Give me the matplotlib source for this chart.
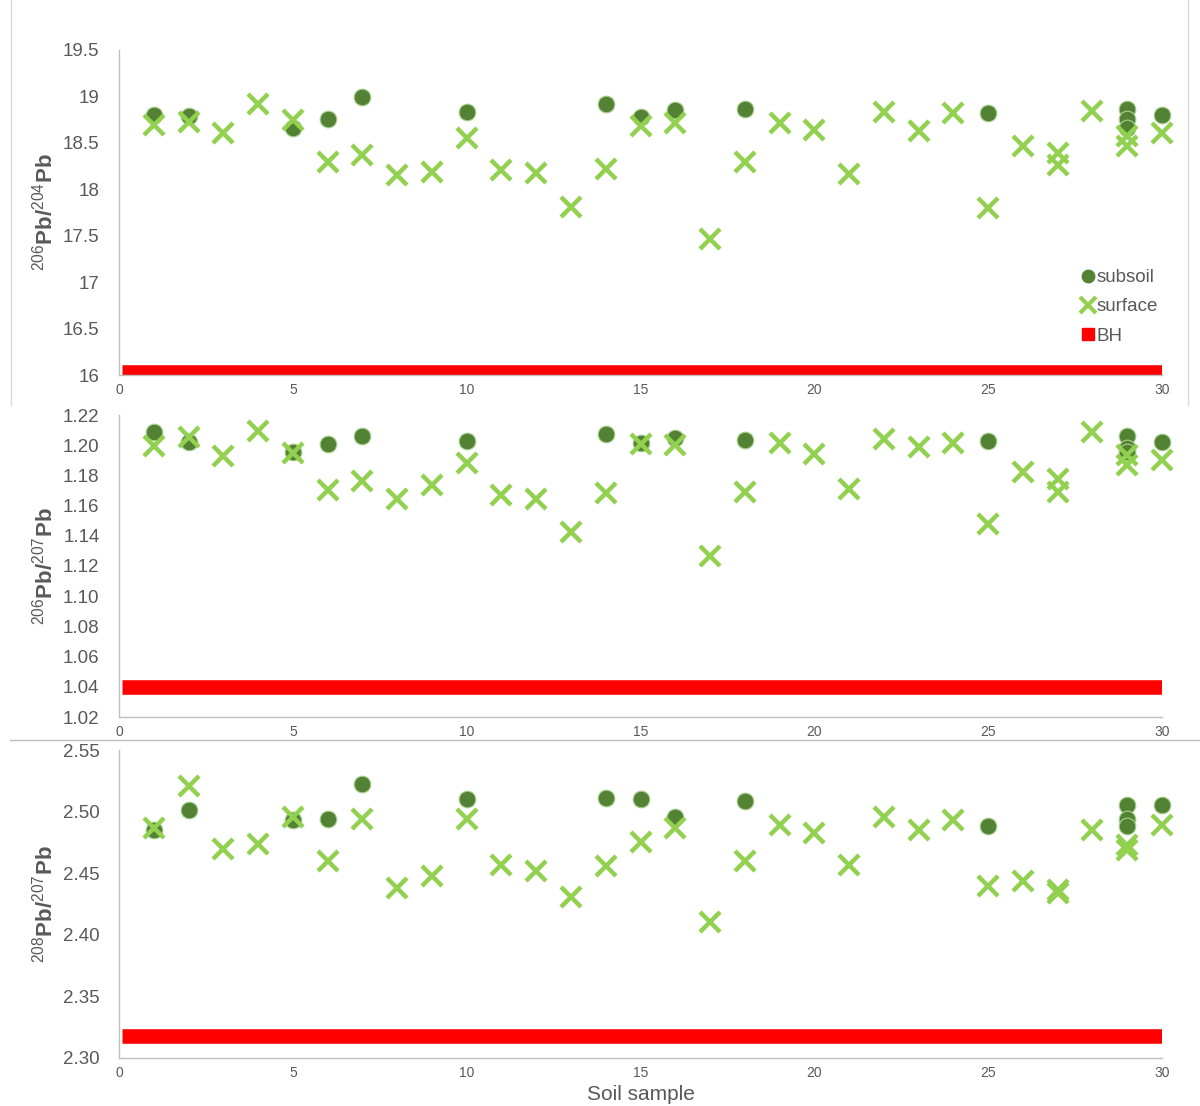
import matplotlib
matplotlib.use("Agg")
from matplotlib import pyplot as plt
from matplotlib.lines import Line2D
import numpy as np

plt.rcParams['font.family'] = ['Liberation Sans', 'DejaVu Sans']
plt.rcParams['mathtext.fontset'] = 'custom'
plt.rcParams['mathtext.rm'] = 'Liberation Sans'
plt.rcParams['mathtext.bf'] = 'Liberation Sans:bold'

# data
sub_x = [1, 2, 5, 6, 7, 10, 14, 15, 16, 18, 25, 29, 29, 29, 30]
sub_206_204 = [18.80, 18.79, 18.66, 18.76, 18.99, 18.83, 18.92, 18.78, 18.85, 18.86,
               18.82, 18.87, 18.76, 18.66, 18.80]
sub_206_207 = [1.2087, 1.2021, 1.1955, 1.2008, 1.2061, 1.2028, 1.2074, 1.2015, 1.2048,
               1.2034, 1.2028, 1.2061, 1.1980, 1.1955, 1.2021]
sub_208_207 = [2.485, 2.501, 2.493, 2.494, 2.522, 2.510, 2.511, 2.510, 2.496, 2.509,
               2.488, 2.505, 2.494, 2.488, 2.505]

surf_x = list(range(1, 27)) + [27, 27, 28, 29, 29, 30]
surf_206_204 = [18.69, 18.73, 18.61, 18.92, 18.75, 18.29, 18.37, 18.15, 18.19, 18.55,
                18.21, 18.17, 17.81, 18.22, 18.68, 18.71, 17.47, 18.29, 18.71, 18.64,
                18.16, 18.83, 18.63, 18.82, 17.80, 18.47, 18.39, 18.26, 18.84, 18.57,
                18.47, 18.61]
surf_206_207 = [1.1995, 1.2054, 1.1929, 1.2094, 1.1948, 1.1703, 1.1763, 1.1644, 1.1737,
                1.1882, 1.1670, 1.1644, 1.1425, 1.1684, 1.2008, 1.2001, 1.1267, 1.1690,
                1.2015, 1.1942, 1.1710, 1.2041, 1.1988, 1.2015, 1.1478, 1.1823, 1.1776,
                1.1690, 1.2087, 1.1935, 1.1869, 1.1902]
surf_208_207 = [2.487, 2.521, 2.470, 2.474, 2.496, 2.460, 2.494, 2.438, 2.448, 2.494,
                2.457, 2.452, 2.431, 2.456, 2.475, 2.487, 2.410, 2.460, 2.489, 2.483,
                2.457, 2.496, 2.485, 2.493, 2.440, 2.444, 2.436, 2.434, 2.485, 2.473,
                2.469, 2.489]

bh_x = [0.1, 30]
bh_vals = [16.03, 1.04, 2.318]

ylabels = [r'$^{206}\mathbf{Pb/}^{204}\mathbf{Pb}$',
           r'$^{206}\mathbf{Pb/}^{207}\mathbf{Pb}$',
           r'$^{208}\mathbf{Pb/}^{207}\mathbf{Pb}$']
ylims = [(16, 19.5), (1.02, 1.22), (2.30, 2.55)]
ysteps = [0.5, 0.02, 0.05]
yfmt = ['{:g}', '{:.2f}', '{:.2f}']
xticks = [0, 5, 10, 15, 20, 25, 30]

sub_col = '#548235'
surf_col = '#92D050'
gray = '#595959'

fig = plt.figure(figsize=(12, 11.06), dpi=100)
W, H = 1200, 1106
boxes = [(50, 375), (415, 717), (750, 1058)]  # pixel top/bottom of each plot area
left, right = 119, 1162

sub_sets = [sub_206_204, sub_206_207, sub_208_207]
surf_sets = [surf_206_204, surf_206_207, surf_208_207]

axes = []
for i in range(3):
    top, bot = boxes[i]
    ax = fig.add_axes([left / W, 1 - bot / H, (right - left) / W, (bot - top) / H])
    axes.append(ax)
    ax.plot(bh_x, [bh_vals[i]] * 2, color='#FF0000', lw=10.5, solid_capstyle='butt',
            zorder=2, label='BH')
    ax.plot(sub_x, sub_sets[i], 'o', color=sub_col, ms=12, mec='#a9d18e', mew=0.8,
            zorder=3, label='subsoil', clip_on=False)
    ax.plot(surf_x, surf_sets[i], 'x', color=surf_col, ms=14, mew=3.2, zorder=4,
            label='surface', clip_on=False)
    lo, hi = ylims[i]
    ax.set_ylim(lo, hi)
    ax.set_xlim(0, 30)
    yt = np.arange(lo, hi + ysteps[i] / 2, ysteps[i])
    ax.set_yticks(yt)
    ax.set_yticklabels([yfmt[i].format(v) for v in yt])
    ax.set_xticks(xticks)
    ax.tick_params(axis='y', length=0, pad=14, labelsize=13.5, labelcolor=gray)
    ax.tick_params(axis='x', length=0, pad=6, labelsize=10, labelcolor=gray)
    for s in ['top', 'right']:
        ax.spines[s].set_visible(False)
    for s in ['left', 'bottom']:
        ax.spines[s].set_color('#bfbfbf')
        ax.spines[s].set_linewidth(1)
    ax.set_ylabel(ylabels[i], fontsize=16, color=gray)
    ax.yaxis.set_label_coords(-0.059, 0.5)

# legend in top panel
h = [Line2D([], [], marker='o', ls='none', color=sub_col, ms=9),
     Line2D([], [], marker='x', ls='none', color=surf_col, ms=11, mew=3),
     Line2D([], [], marker='s', ls='none', color='#FF0000', ms=9)]
leg = axes[0].legend(h, ['subsoil', 'surface', 'BH'], loc='upper left',
                     bbox_to_anchor=(0.915, 0.355), frameon=False, fontsize=13.5,
                     handlelength=0.6, handletextpad=0.15, labelspacing=0.65,
                     borderpad=0)
for t in leg.get_texts():
    t.set_color(gray)

fig.text(641 / W, 1 - 1094 / H, 'Soil sample', ha='center', va='center',
         fontsize=15, color=gray)

# faint frames of the original chart objects
fc = '#d9d9d9'
fig.add_artist(Line2D([11 / W, 11 / W], [1, 1 - 405 / H], color=fc, lw=1))
fig.add_artist(Line2D([1188 / W, 1188 / W], [1, 1 - 405 / H], color=fc, lw=1))
fig.add_artist(Line2D([10 / W, 1], [1 - 740 / H, 1 - 740 / H], color='#bfbfbf', lw=1))

fig.savefig('out.png', dpi=100)
